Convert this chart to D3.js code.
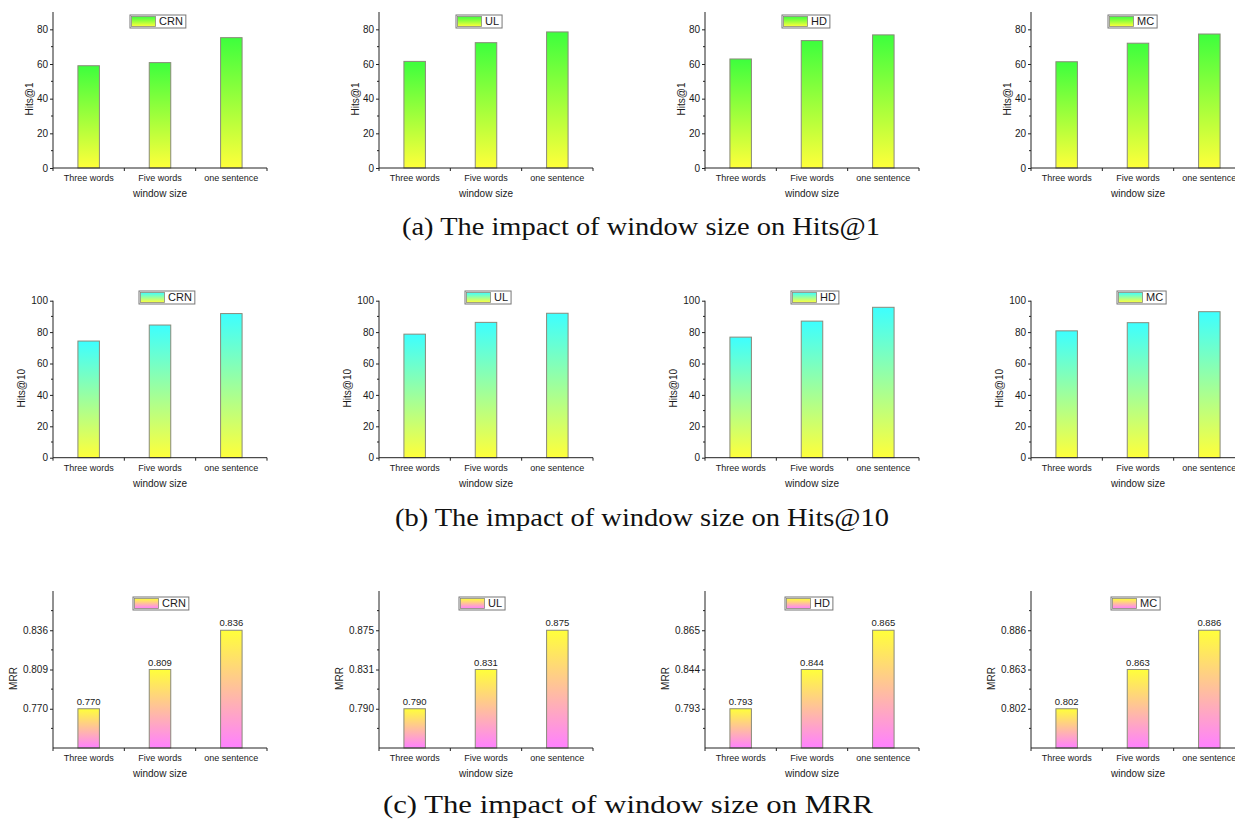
<!DOCTYPE html>
<html>
<head>
<meta charset="utf-8">
<script src="https://cdn.jsdelivr.net/npm/d3@7"></script>
<style>
  html, body { margin: 0; padding: 0; background: #fff; }
  svg { display: block; }
  text { font-family: "Liberation Sans", Arial, sans-serif; fill: #1a1a1a; }
  .caption { font-family: "Liberation Serif", "Times New Roman", serif; fill: #111; }
</style>
</head>
<body>
<svg id="chart" width="1235" height="819"></svg>
<script>
// ---------------- DATA ----------------
const categories = ["Three words", "Five words", "one sentence"];
const datasets = ["CRN", "UL", "HD", "MC"];

// Hits@1 per dataset (CRN, UL, HD, MC)
const hits1Values = [
  [59.0, 60.8, 75.2],
  [61.5, 72.3, 78.5],
  [62.9, 73.5, 76.8],
  [61.3, 72.0, 77.3]
];
// Hits@10 per dataset
const hits10Values = [
  [74.3, 84.5, 91.8],
  [78.7, 86.2, 92.0],
  [76.8, 87.0, 95.8],
  [80.8, 86.0, 93.0]
];
// MRR per dataset
const mrrValues = [
  [0.770, 0.809, 0.836],
  [0.790, 0.831, 0.875],
  [0.793, 0.844, 0.865],
  [0.802, 0.863, 0.886]
];

const hits1Ticks = [0, 20, 40, 60, 80];
const hits1Max = 90;
const hits10Ticks = [0, 20, 40, 60, 80, 100];
const hits10Max = 100;

const yTitles = ["Hits@1", "Hits@10", "MRR"];
const xTitle = "window size";
const captions = [
  "(a) The impact of window size on Hits@1",
  "(b) The impact of window size on Hits@10",
  "(c) The impact of window size on MRR"
];

// ---------------- LAYOUT ----------------
const svg = d3.select("#chart");
const panelX = [53, 379, 705, 1031];
const plotW = 214;
const rows = [
  { top: 12, bottom: 168, legendDx: 77, legendY: 15, titleDx: -24, gradTop: "#3dff3d", gradBot: "#ffff3a" },
  { top: 300.7, bottom: 457.7, legendDx: 86, legendY: 291, titleDx: -32, gradTop: "#3dffff", gradBot: "#ffff3a" },
  { top: 591, bottom: 748, legendDx: 80, legendY: 597, titleDx: -40, gradTop: "#ffff3a", gradBot: "#ff80ff" }
];
const captionPos = [
  { x: 402, y: 235, w: 478 },
  { x: 395, y: 526, w: 494 },
  { x: 383, y: 813, w: 490 }
];

const defs = svg.append("defs");
rows.forEach((r, i) => {
  const g = defs.append("linearGradient").attr("id", "grad" + i)
    .attr("x1", 0).attr("y1", 0).attr("x2", 0).attr("y2", 1);
  g.append("stop").attr("offset", "0%").attr("stop-color", r.gradTop);
  g.append("stop").attr("offset", "100%").attr("stop-color", r.gradBot);
});

const axisColor = "#222";

function drawPanel(rowIdx, dsIdx, values) {
  const r = rows[rowIdx];
  const x0 = panelX[dsIdx];
  const g = svg.append("g");

  const x = d3.scaleBand().domain(categories).range([x0, x0 + plotW]).paddingInner(0).paddingOuter(0);
  const barW = 21.5;

  let y, tickVals, tickFmt, minorVals;
  if (rowIdx === 0) {
    y = d3.scaleLinear().domain([0, hits1Max]).range([r.bottom, r.top]);
    tickVals = hits1Ticks; tickFmt = d3.format("d");
    minorVals = hits1Ticks.map(t => t + 10).filter(v => v < hits1Max);
  } else if (rowIdx === 1) {
    y = d3.scaleLinear().domain([0, hits10Max]).range([r.bottom, r.top]);
    tickVals = hits10Ticks; tickFmt = d3.format("d");
    minorVals = hits10Ticks.map(t => t + 10).filter(v => v < hits10Max);
  } else {
    // evenly spaced (piecewise linear) axis with ticks at the data values
    const s = (r.bottom - r.top) / 4;
    y = d3.scaleLinear()
      .domain([0, values[0], values[1], values[2], 1])
      .range([r.bottom, r.bottom - s, r.bottom - 2 * s, r.bottom - 3 * s, r.top]);
    tickVals = values.slice(); tickFmt = d3.format(".3f");
    const dom = y.domain();
    minorVals = [];
    for (let k = 0; k < dom.length - 1; k++) minorVals.push((dom[k] + dom[k + 1]) / 2);
  }

  // bars
  g.selectAll("rect.bar").data(values).enter().append("rect")
    .attr("class", "bar")
    .attr("x", (d, i) => x(categories[i]) + x.bandwidth() / 2 - barW / 2)
    .attr("width", barW)
    .attr("y", d => y(d))
    .attr("height", d => r.bottom - y(d))
    .attr("fill", "url(#grad" + rowIdx + ")")
    .attr("stroke", "#8a8a7a")
    .attr("stroke-width", 1);

  // value labels for MRR
  if (rowIdx === 2) {
    g.selectAll("text.val").data(values).enter().append("text")
      .attr("x", (d, i) => x(categories[i]) + x.bandwidth() / 2)
      .attr("y", d => y(d) - 4)
      .attr("text-anchor", "middle")
      .attr("font-size", 9.5)
      .text(d => d3.format(".3f")(d));
  }

  // y axis
  const yAxis = d3.axisLeft(y).tickValues(tickVals).tickFormat(tickFmt).tickSize(3).tickPadding(2).tickSizeOuter(0);
  const ya = g.append("g").attr("transform", `translate(${x0},0)`).call(yAxis);
  ya.select(".domain").attr("stroke", axisColor).attr("d", `M0,${r.bottom}V${r.top}`);
  ya.selectAll(".tick line").attr("stroke", axisColor);
  ya.selectAll(".tick text").attr("font-size", 10).attr("font-family", "Liberation Sans, Arial, sans-serif").attr("fill", "#1a1a1a");
  // minor ticks
  ya.selectAll("line.minor").data(minorVals).enter().append("line")
    .attr("class", "minor").attr("x1", 0).attr("x2", -2)
    .attr("y1", d => y(d)).attr("y2", d => y(d)).attr("stroke", axisColor);

  // x axis
  g.append("line").attr("x1", x0).attr("x2", x0 + plotW)
    .attr("y1", r.bottom).attr("y2", r.bottom).attr("stroke", axisColor);
  const bounds = categories.map(c => x(c)).concat([x0 + plotW]);
  g.selectAll("line.xt").data(bounds).enter().append("line")
    .attr("x1", d => d).attr("x2", d => d)
    .attr("y1", r.bottom).attr("y2", r.bottom + 3).attr("stroke", axisColor);
  g.selectAll("text.cat").data(categories).enter().append("text")
    .attr("x", d => x(d) + x.bandwidth() / 2)
    .attr("y", r.bottom + 13)
    .attr("text-anchor", "middle")
    .attr("font-size", 9)
    .text(d => d);

  // axis titles
  g.append("text")
    .attr("transform", `translate(${x0 + r.titleDx},${(r.top + r.bottom) / 2 + 9}) rotate(-90)`)
    .attr("text-anchor", "middle")
    .attr("dy", "0.35em")
    .attr("font-size", 10)
    .text(yTitles[rowIdx]);
  g.append("text")
    .attr("x", x0 + plotW / 2)
    .attr("y", r.bottom + 29)
    .attr("text-anchor", "middle")
    .attr("font-size", 10)
    .text(xTitle);

  // legend
  const lx = x0 + r.legendDx, ly = r.legendY, lh = 13, sw = 26;
  const lg = g.append("g");
  const boxRect = lg.append("rect").attr("x", lx).attr("y", ly).attr("height", lh)
    .attr("fill", "#fff").attr("stroke", "#777").attr("stroke-width", 1);
  lg.append("rect").attr("x", lx + 1.5).attr("y", ly + 1.5).attr("width", sw - 2).attr("height", lh - 3)
    .attr("fill", "url(#grad" + rowIdx + ")").attr("stroke", "#8a8a7a").attr("stroke-width", 0.8);
  const lt = lg.append("text").attr("x", lx + sw + 3).attr("y", ly + lh / 2).attr("dy", "0.36em")
    .attr("font-size", 11).text(datasets[dsIdx]);
  const tw = lt.node().getComputedTextLength();
  boxRect.attr("width", sw + 3 + tw + 3);
}

const allValues = [hits1Values, hits10Values, mrrValues];
allValues.forEach((vals, rowIdx) => {
  datasets.forEach((ds, dsIdx) => drawPanel(rowIdx, dsIdx, vals[dsIdx]));
});

// captions
captions.forEach((c, i) => {
  const p = captionPos[i];
  svg.append("text").attr("class", "caption")
    .attr("x", p.x).attr("y", p.y)
    .attr("font-size", 25)
    .attr("textLength", p.w)
    .attr("lengthAdjust", "spacingAndGlyphs")
    .text(c);
});
</script>
</body>
</html>
